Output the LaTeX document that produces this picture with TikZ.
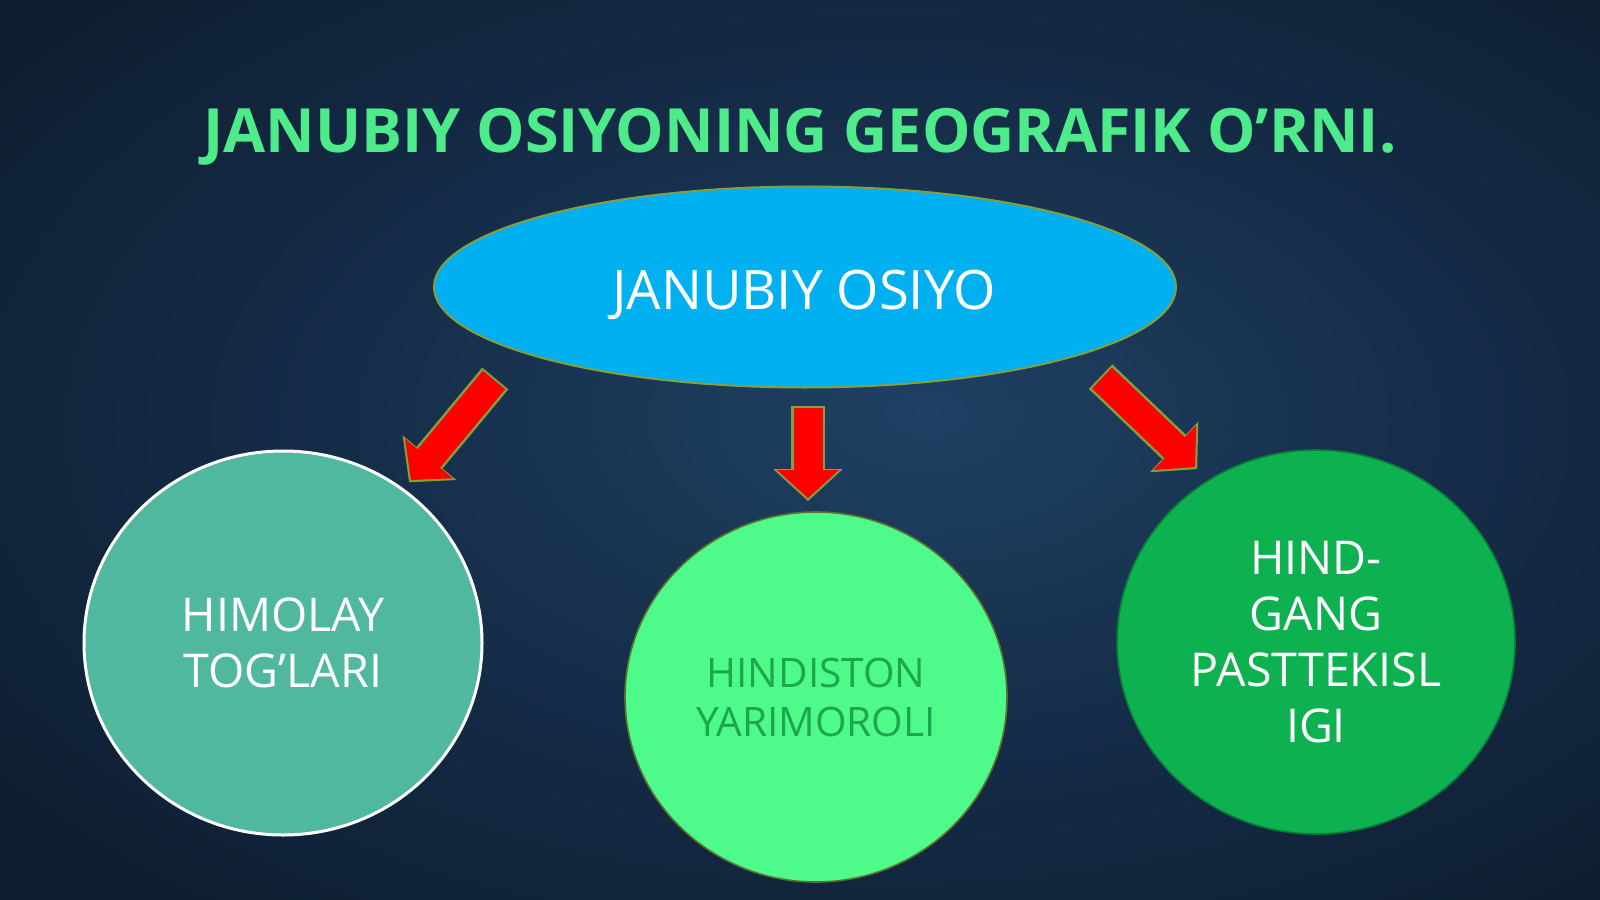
\documentclass[tikz,border=0pt]{standalone}
\usepackage{fontspec}
\setmainfont{Open Sans}
\usepackage{tikz}
\usetikzlibrary{positioning}
\usetikzlibrary{shapes.geometric}
\usetikzlibrary{arrows.meta}
\usepackage{xcolor}

\definecolor{bgin}{HTML}{1F4163}
\definecolor{bgmid}{HTML}{142A45}
\definecolor{bgout}{HTML}{08121D}
\definecolor{titlegreen}{HTML}{4DEB8A}
\definecolor{asiablue}{HTML}{00B0F0}
\definecolor{olive}{HTML}{84A03C}
\definecolor{teal}{HTML}{4FB89E}
\definecolor{lightgreen}{HTML}{4DFA8A}
\definecolor{darkgreen}{HTML}{1EA64F}
\definecolor{grassgreen}{HTML}{0DB14F}

\pgfdeclareradialshading{slidebg}{\pgfpoint{4bp}{2bp}}{color(0bp)=(bgin); color(20bp)=(bgmid); color(50bp)=(bgout); color(72bp)=(bgout)}

\begin{document}
\begin{tikzpicture}[x=0.5pt, y=-0.5pt,
		bubble/.style={ellipse, align=center, inner sep=0pt, minimum width=199pt, minimum height=192pt, font=\fontsize{23.3}{28}\selectfont},
		arrowrim/.style={olive, line width=17pt, shorten <=-1pt, shorten >=-1.5pt, -{Triangle[width=35pt, length=16pt, line width=0pt]}},
		arrowbody/.style={red, line width=14.5pt, -{Triangle[width=31pt, length=14pt, line width=0pt]}}]
			    		% background
			    		\shade[shading=slidebg] (0, 0) rectangle (1600, 899);
			    		\useasboundingbox (0, 0) rectangle (1600, 899);
			    		% title
			    		\node[anchor=base, text=titlegreen, font=\fontsize{30.5}{36}\selectfont\bfseries] (title) at (800, 152) {JANUBIY OSIYONING GEOGRAFIK O’RNI.};
			    		% main ellipse
			    		\node[ellipse, fill=asiablue, draw=olive, line width=1pt, minimum width=371pt, minimum height=100.5pt, inner sep=0pt] (asia) at (805, 287) {};
			    		\node[anchor=base, text=white, font=\fontsize{27.2}{32}\selectfont] (asiatext) at (804, 309) {JANUBIY OSIYO};
			    		% three regions
			    		\node[bubble, fill=teal, draw=white, line width=1.5pt, text=white] (himalaya) at (283, 643) {HIMOLAY\\TOG’LARI};
			    		\node[bubble, fill=lightgreen, draw=olive!70!black, line width=0.8pt, text=darkgreen, minimum width=191pt, minimum height=185pt, font=\fontsize{20.3}{24.5}\selectfont] (hindiston) at (816, 697) {HINDISTON\\YARIMOROLI};
			    		\node[bubble, fill=grassgreen, draw=grassgreen!70!black, line width=0.8pt, text=white] (gang) at (1316, 642) {HIND-\\GANG\\PASTTEKISL\\IGI};
			    		% arrows
			    		\coordinate (lt) at (494, 380);
			    		\coordinate (lh) at (411, 480);
			    		\coordinate (mt) at (808, 408);
			    		\coordinate (mh) at (808, 498);
			    		\coordinate (rt) at (1102, 378);
			    		\coordinate (rh) at (1195, 467);
			    		\foreach \t/\h in {lt/lh, mt/mh, rt/rh}{
			    			\draw[arrowrim] (\t) -- (\h);
			    			\draw[arrowbody] (\t) -- (\h);
			    		}
			    	\end{tikzpicture}
\end{document}
